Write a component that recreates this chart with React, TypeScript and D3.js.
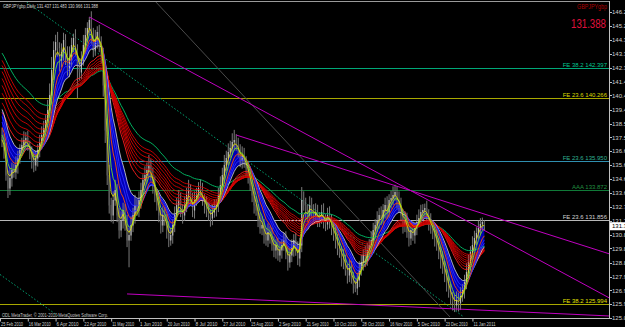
import React, { useMemo } from "react";
import * as d3 from "d3";

// ---------- DATA ----------
const symbol = "GBPJPYgbp";
const timeframe = "Daily";
const ohlcText = ["131.437", "131.483", "130.966", "131.388"];
const lastPriceText = "131.388";
const copyright = "ODL MetaTrader, \u00a9 2001-2010 MetaQuotes Software Corp.";

const firstOpen = 137.6;
const closes = [
  137.38, 136.68, 134.95, 134.05, 134.74, 135.3, 135.16, 135.64, 136.13, 136.68,
  137.03, 137.38, 137.52, 137.03, 136.54, 135.99, 135.64, 136.13, 136.68, 137.24,
  137.72, 138.21, 138.77, 139.46, 140.5, 142.24, 143.62, 144.18, 143.76, 142.93,
  143.48, 144.32, 143.28, 142.24, 143.07, 143.97, 144.46, 143.62, 142.58, 142.1,
  142.93, 143.97, 144.66, 145.15, 145.71, 144.66, 143.62, 144.32, 144.87, 143.97,
  143.28, 141.19, 138.07, 134.95, 132.87, 132.17, 133.21, 133.91, 132.17, 131.13,
  131.83, 132.52, 131.48, 130.44, 130.78, 131.48, 132.17, 132.87, 132.52, 133.21,
  133.91, 134.6, 134.95, 135.3, 135.64, 134.95, 134.25, 133.56, 132.87, 132.17,
  131.48, 132.17, 131.83, 131.13, 130.44, 130.78, 131.48, 132.17, 132.87, 133.21,
  132.52, 132.17, 132.87, 133.56, 133.91, 133.21, 132.52, 133.21, 133.56, 134.05,
  133.91, 133.21, 132.87, 132.52, 132.17, 131.96, 132.38, 132.66, 132.87, 133.56,
  134.25, 134.95, 135.64, 136.13, 136.54, 136.82, 137.24, 137.38, 137.03, 136.68,
  135.99, 136.33, 135.85, 135.43, 134.95, 134.25, 133.56, 132.87, 132.52, 131.83,
  131.27, 131.48, 130.78, 130.44, 130.99, 130.78, 130.09, 129.74, 130.09, 129.4,
  129.74, 130.09, 130.44, 129.6, 128.91, 129.4, 129.88, 130.44, 129.74, 129.19,
  130.09, 133.21, 132.87, 132.52, 132.17, 132.87, 132.52, 132.17, 132.38, 131.83,
  131.96, 132.38, 131.83, 131.55, 132.17, 131.83, 131.27, 130.78, 130.44, 129.88,
  129.6, 129.19, 128.91, 128.36, 128.01, 128.49, 127.8, 127.32, 127.11, 127.66,
  128.36, 128.91, 129.4, 129.05, 129.74, 130.09, 130.44, 131.13, 131.48, 131.83,
  132.17, 131.96, 132.52, 132.87, 132.38, 133.21, 133.35, 133.56, 133.77, 133.21,
  132.87, 132.17, 131.48, 131.83, 130.99, 130.58, 131.13, 130.78, 131.27, 131.69,
  131.96, 132.38, 132.52, 132.66, 132.17, 131.69, 131.27, 130.99, 130.58, 130.09,
  129.6, 129.05, 128.49, 128.01, 127.45, 126.83, 126.41, 126.14, 125.93, 126.27,
  126.07, 126.55, 126.97, 127.52, 128.22, 128.91, 129.6, 130.09, 130.58, 130.92,
  131.27, 131.55, 131.69, 131.388,
];
const upperWicks = [
  .6, .4, .5, .3, .7, .5, .4, .6, .5, .4,
  .5, .6, .4, .5, .3, .4, .6, .5, .4, .5,
  .6, .5, .4, .7, .8, .9, .6, .5, .7, .4,
  .6, .5, .4, .6, .8, .5, .3, .6, .4, .5,
  .6, .7, .5, .4, .2, .6, .5, .7, .4, .5,
  .6, .5, .9, .8, .7, .5, .6, .7, .4, .5,
  .6, .5, .4, .7, .5, .6, .5, .7, .4, .6,
  .5, .4, .6, .5, .7, .4, .5, .6, .4, .5,
  .4, .6, .5, .4, .6, .5, .4, .6, .5, .7,
  .5, .4, .6, .5, .7, .4, .5, .6, .5, .4,
  .6, .5, .4, .6, .5, .4, .5, .6, .4, .5,
  .6, .5, .7, .5, .6, .5, .6, .7, .4, .5,
  .4, .6, .5, .4, .5, .6, .4, .5, .6, .4,
  .5, .6, .4, .5, .6, .4, .5, .6, .4, .5,
  .6, .4, .5, .6, .4, .5, .6, .4, .5, .6,
  .5, .9, .6, .5, .4, .6, .5, .4, .6, .5,
  .4, .5, .6, .4, .5, .6, .4, .5, .6, .4,
  .5, .4, .6, .5, .4, .6, .5, .4, .3, .5,
  .6, .5, .4, .6, .5, .4, .6, .5, .4, .6,
  .5, .6, .4, .5, .6, .4, .5, .6, .5, .4,
  .6, .5, .4, .6, .5, .4, .5, .6, .4, .5,
  .6, .5, .4, .3, .5, .4, .6, .5, .4, .6,
  .5, .4, .6, .5, .4, .5, .6, .4, .5, .6,
  .5, .6, .4, .5, .6, .5, .4, .6, .5, .4,
  .5, .4, .3, .1,
];
const lowerWicks = [
  .5, .6, .4, .7, .5, .6, .4, .5, .6, .4,
  .4, .5, .6, .4, .5, .6, .5, .4, .6, .5,
  .5, .4, .6, .5, .4, .6, .7, .5, .6, .8,
  .5, .6, .7, .4, .5, .6, .5, .4, 2.3, .6,
  .5, .4, .6, .5, .4, .6, .5, .4, .6, .5,
  .6, .8, .9, .7, .6, .5, .6, .4, .5, .6,
  .5, .6, .4, .5, 1.9, .4, .5, .6, .4, .5,
  .6, .5, .4, .6, .5, .4, .6, .5, .4, .5,
  .6, .5, .4, .6, .5, .4, .6, .5, .4, .5,
  .5, .6, .4, .5, .6, .4, .5, .6, .4, .5,
  .5, .4, .6, .5, .4, .6, .5, .4, .6, .5,
  .4, .5, .6, .4, .5, .4, .5, .6, .4, .5,
  .5, .6, .4, .5, .6, .4, .5, .6, .4, .5,
  .4, .5, .6, .4, .5, .6, .4, .5, .6, .4,
  .5, .6, .4, .5, .6, .4, .5, .6, .4, .5,
  .6, .5, .4, .6, .5, .4, .6, .5, .4, .5,
  .5, .4, .6, .5, .4, .6, .5, .4, .6, .5,
  .4, .6, .5, .4, .6, .5, .4, .6, .3, .5,
  .5, .4, .6, .5, .4, .6, .5, .4, .6, .5,
  .6, .5, .4, .6, .5, .4, .6, .5, .4, .6,
  .5, .4, .6, .5, .4, .6, .5, .4, .6, .5,
  .4, .5, .6, .4, .5, .6, .4, .5, .6, .4,
  .5, .6, .4, .5, .6, .4, .5, .6, .5, .4,
  .6, .5, .4, .6, .5, .4, .6, .5, .4, .5,
  .4, .5, .4, .3,
];

const dateLabels = [
  "25 Feb 2010", "16 Mar 2010", "6 Apr 2010", "22 Apr 2010", "11 May 2010", "1 Jun 2010",
  "20 Jun 2010", "8 Jul 2010", "27 Jul 2010", "15 Aug 2010", "2 Sep 2010", "21 Sep 2010",
  "10 Oct 2010", "28 Oct 2010", "16 Nov 2010", "5 Dec 2010", "23 Dec 2010", "11 Jan 2011",
];
const dateBars = [0, 14, 28, 42, 56, 70, 84, 98, 112, 126, 140, 154, 168, 182, 196, 210, 224, 238];

const priceTicks = [
  "146.260", "145.270", "144.310", "143.350", "142.390", "141.430", "140.470", "139.480",
  "138.520", "137.560", "136.600", "135.640", "134.680", "133.690", "132.730", "131.770",
  "130.810", "129.850", "128.860", "127.900", "126.940", "125.980", "125.020",
];

const levelNames = ["FE 38.2", "FE 23.6", "FE 23.6", "AAA", "FE 23.6", "FE 38.2"];
const levelPrices = [142.397, 140.266, 135.95, 133.872, 131.856, 125.994];

const shortPeriods = [3, 5, 8, 10, 12, 15];
const shortSeeds = [137.4, 137.9, 138.5, 138.9, 139.3, 139.8];
const longPeriods = [24, 27, 30, 33, 36, 40, 44, 48];
const longSeeds = [139.46, 140.15, 140.85, 141.4, 141.89, 142.37, 142.79, 143.14];
const slowPeriod = 58;
const slowSeed = 143.62;

// trendlines: [barIndex, price] -> [barIndex, price]
const magentaLines = [
  [[44, 145.91], [306, 126.41]],
  [[118, 137.72], [306, 129.47]],
  [[63, 126.69], [306, 125.16]],
];
const dottedLines = [
  [[11, 147.09], [232, 125.16]],
  [[-1, 128.04], [28, 125.19]],
];
const grayLines = [[[76.6, 147.09], [225.7, 125.09]]];

// ---------- STYLE ----------
const W = 625;
const H = 327;
const plotRight = 609;
const plotBottom = 318.5;
const levelColors = ["#00a878", "#a8a800", "#2f8fb0", "#107a38", "#b8b8b8", "#a8a800"];
const levelTextColors = ["#00c890", "#d8d800", "#30b090", "#209040", "#d0d0d0", "#e0e000"];
const shortColors = ["#e8e800", "#70e020", "#ff5000", "#2a2aff", "#3030ff", "#d8d8d8"];
const FONT = "Liberation Sans, Arial, sans-serif";

function ema(values: number[], period: number, seed: number) {
  const a = 2 / (period + 1);
  let e = seed;
  return values.map((v) => (e = a * v + (1 - a) * e));
}

export default function App() {
  const x = d3.scaleLinear().domain([0, 243]).range([2, 2 + 243 * 1.985]);
  const y = d3.scaleLinear().domain([125.02, 146.26]).range([318, 12]);

  const { shortE, longE, slowE } = useMemo(() => {
    return {
      shortE: shortPeriods.map((p, k) => ema(closes, p, shortSeeds[k])),
      longE: longPeriods.map((p, k) => ema(closes, p, longSeeds[k])),
      slowE: ema(closes, slowPeriod, slowSeed),
    };
  }, []);

  const line = d3
    .line<number>()
    .x((_, i) => x(i))
    .y((d) => y(d));
  const area = d3
    .area<number>()
    .x((_, i) => x(i))
    .y0((_, i) => y(shortE[shortE.length - 1][i]))
    .y1((d) => y(d));

  const candles = closes.map((c, i) => {
    const o = i === 0 ? firstOpen : closes[i - 1];
    const h = Math.max(o, c) + upperWicks[i];
    const l = Math.min(o, c) - lowerWicks[i];
    return { o, c, h, l, i };
  });

  const seg = (s: number[][], k: string, color: string, dash?: string) => (
    <line
      key={k}
      x1={x(s[0][0])}
      y1={y(s[0][1])}
      x2={x(s[1][0])}
      y2={y(s[1][1])}
      stroke={color}
      strokeWidth={1}
      strokeDasharray={dash}
    />
  );

  const lastY = y(closes[closes.length - 1]);

  return (
    <div style={{ position: "fixed", left: 0, top: 0, width: W, height: H }}>
      <svg width={W} height={H} style={{ display: "block", background: "#000" }} fontFamily={FONT}>
        <defs>
          <clipPath id="plot">
            <rect x={0} y={1} width={plotRight} height={plotBottom - 1} />
          </clipPath>
        </defs>
        <rect x={0} y={0} width={W} height={H} fill="#000" />

        <g clipPath="url(#plot)">
          {levelPrices.map((p, k) => (
            <line key={"lv" + k} x1={0} x2={plotRight} y1={Math.round(y(p)) + 0.5} y2={Math.round(y(p)) + 0.5} stroke={levelColors[k]} strokeWidth={1} />
          ))}
          {grayLines.map((s, k) => seg(s, "g" + k, "#4a4a4a"))}
          {dottedLines.map((s, k) => seg(s, "d" + k, "#00a070", "1.5,2"))}

          <path d={area(shortE[0]) || ""} fill="#0000b4" />
          {candles.map((d) => (
            <g key={"c" + d.i}>
              <line x1={x(d.i)} x2={x(d.i)} y1={y(d.h)} y2={y(d.l)} stroke="#7a7a7a" strokeWidth={1} />
              <line
                x1={x(d.i)}
                x2={x(d.i)}
                y1={y(Math.max(d.o, d.c))}
                y2={y(Math.min(d.o, d.c)) + 0.5}
                stroke={d.c >= d.o ? "#b8b8b8" : "#5c5c5c"}
                strokeWidth={1.2}
              />
            </g>
          ))}
          <path d={line(slowE) || ""} fill="none" stroke="#00b060" strokeWidth={1} />
          {longE.map((e, k) => (
            <path key={"l" + k} d={line(e) || ""} fill="none" stroke={k === 0 ? "#ff2020" : "#d80000"} strokeWidth={0.9} />
          ))}
          {shortE
            .map((e, k) => ({ e, k }))
            .reverse()
            .map(({ e, k }) => (
              <path key={"s" + k} d={line(e) || ""} fill="none" stroke={shortColors[k]} strokeWidth={k === 0 ? 0.8 : k === 5 ? 0.8 : 0.9} />
            ))}
          {magentaLines.map((s, k) => seg(s, "m" + k, "#c000c0"))}
        </g>

        {levelPrices.map((p, k) => (
          <text key={"lt" + k} x={plotRight - 2} y={Math.round(y(p)) - 1} fontSize={6} fill={levelTextColors[k]} textAnchor="end">
            {levelNames[k] + " " + p.toFixed(3)}
          </text>
        ))}

        <line x1={0} x2={plotRight} y1={1.5} y2={1.5} stroke="#9a9a9a" strokeWidth={1} />
        <line x1={plotRight + 0.5} x2={plotRight + 0.5} y1={1} y2={plotBottom} stroke="#c0c0c0" strokeWidth={1} />
        <line x1={0} x2={plotRight + 1} y1={plotBottom} y2={plotBottom} stroke="#c0c0c0" strokeWidth={1} />

        {priceTicks.map((t) => (
          <g key={"pt" + t}>
            <line x1={plotRight} x2={plotRight + 3} y1={Math.round(y(+t)) + 0.5} y2={Math.round(y(+t)) + 0.5} stroke="#c0c0c0" />
            <text x={plotRight + 3} y={y(+t) + 2.2} fontSize={6} fill="#d0d0d0">
              {t}
            </text>
          </g>
        ))}
        <rect x={plotRight + 1} y={lastY - 4} width={W - plotRight} height={8} fill="#ffffff" />
        <text x={plotRight + 3} y={lastY + 2.2} fontSize={6} fill="#000">
          {lastPriceText}
        </text>

        {dateBars.map((b, k) => (
          <g key={"dt" + k}>
            <line x1={x(b) - 1.5} x2={x(b) - 1.5} y1={plotBottom} y2={plotBottom + 3} stroke="#c0c0c0" />
            <text x={x(b) - 1} y={326} fontSize={5.5} fill="#d0d0d0" textLength={22} lengthAdjust="spacingAndGlyphs">
              {dateLabels[k]}
            </text>
          </g>
        ))}

        <text x={3} y={8} fontSize={6} fill="#d8d8d8" textLength={95} lengthAdjust="spacingAndGlyphs">
          {symbol + "," + timeframe + "  " + ohlcText.join(" ")}
        </text>
        <text x={607} y={9} fontSize={8} fill="#b00000" textAnchor="end" textLength={30} lengthAdjust="spacingAndGlyphs">
          {symbol}
        </text>
        <text x={606} y={27.5} fontSize={12} fill="#e0103c" textAnchor="end" textLength={35} lengthAdjust="spacingAndGlyphs">
          {lastPriceText}
        </text>
        <text x={2} y={316.5} fontSize={5.5} fill="#c8c8c8" textLength={106} lengthAdjust="spacingAndGlyphs">
          {copyright}
        </text>
      </svg>
    </div>
  );
}
